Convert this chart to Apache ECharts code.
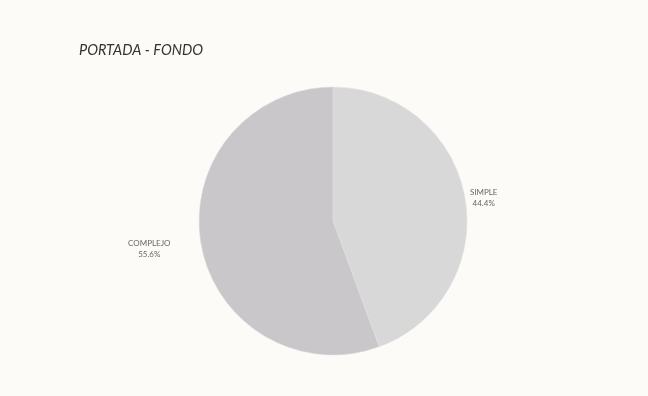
<!DOCTYPE html>
<html>
<head>
<meta charset="utf-8">
<script src="https://cdn.jsdelivr.net/npm/echarts@6/dist/echarts.min.js"></script>
<style>
html, body { margin: 0; padding: 0; background: #fdfbf8; }
#chart { width: 648px; height: 396px; }
</style>
</head>
<body>
<div id="chart"></div>
<script>
// datos
var categories = ['SIMPLE', 'COMPLEJO'];
var values = [44.4, 55.6];
var colors = ['#d9d8d8', '#c9c7ca'];
// distancia de la etiqueta a la tarta
var labelGap = [0, 26];

var data = categories.map(function (name, i) {
  return {
    name: name,
    value: values[i],
    itemStyle: { color: colors[i] },
    labelLine: { show: false, length: labelGap[i], length2: 0 }
  };
});

var myChart = echarts.init(document.getElementById('chart'));
var option = {
  backgroundColor: '#fdfbf8',
  animation: false,
  title: {
    text: 'PORTADA - FONDO',
    left: 74,
    top: 38,
    textStyle: {
      fontFamily: 'Lato',
      fontStyle: 'italic',
      fontWeight: 'normal',
      fontSize: 14.5,
      color: '#333333'
    }
  },
  series: [{
    type: 'pie',
    center: [333, 221],
    radius: 134,
    startAngle: 90,
    clockwise: true,
    avoidLabelOverlap: false,
    itemStyle: { borderColor: '#e2e1e1', borderWidth: 0.5 },
    label: {
      show: true,
      position: 'outside',
      formatter: '{t|{b}}\n{t|{d}%}',
      color: '#666666',
      rich: {
        t: {
          fontFamily: 'Lato',
          fontSize: 8,
          lineHeight: 11,
          color: '#666666',
          align: 'center'
        }
      }
    },
    emphasis: { disabled: true },
    data: data
  }]
};
myChart.setOption(option);
</script>
</body>
</html>
